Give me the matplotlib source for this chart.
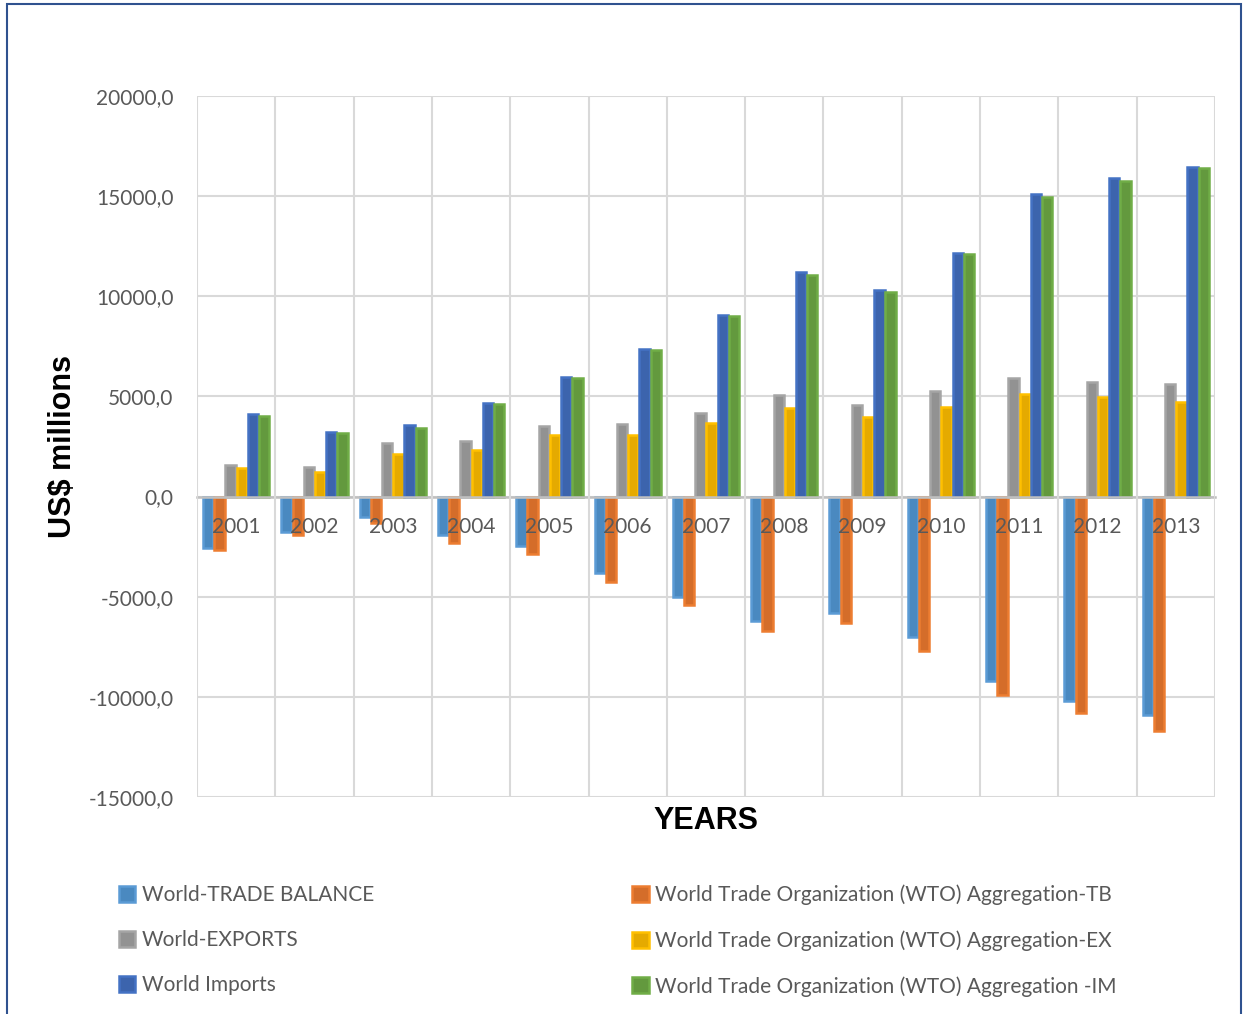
import matplotlib.pyplot as plt
import numpy as np
from matplotlib.patches import Rectangle

years = ["2001", "2002", "2003", "2004", "2005", "2006", "2007",
         "2008", "2009", "2010", "2011", "2012", "2013"]

world_tb = [-2550, -1750, -1000, -1900, -2450, -3800, -5000,
            -6200, -5800, -7000, -9200, -10230, -10900]
wto_tb = [-2650, -1900, -1300, -2300, -2850, -4250, -5400,
          -6700, -6300, -7700, -9900, -10820, -11720]
world_ex = [1600, 1500, 2650, 2750, 3500, 3600, 4150,
            5050, 4550, 5250, 5900, 5740, 5600]
wto_ex = [1450, 1250, 2150, 2350, 3050, 3050, 3650,
          4400, 3950, 4450, 5100, 4970, 4720]
world_im = [4100, 3200, 3550, 4650, 5950, 7350, 9050,
            11200, 10300, 12150, 15100, 15900, 16480]
wto_im = [4000, 3150, 3400, 4600, 5900, 7300, 9000,
          11050, 10200, 12100, 14970, 15750, 16390]

series = [
    ("World-TRADE BALANCE", world_tb, "#5b9bd5", "#4a89c0"),
    ("World Trade Organization (WTO) Aggregation-TB", wto_tb, "#ed7d31", "#d46d2a"),
    ("World-EXPORTS", world_ex, "#a5a5a5", "#929292"),
    ("World Trade Organization (WTO) Aggregation-EX", wto_ex, "#ffc000", "#e5aa00"),
    ("World Imports", world_im, "#4472c4", "#3c64ad"),
    ("World Trade Organization (WTO) Aggregation -IM", wto_im, "#70ad47", "#63993e"),
]

plt.rcParams["font.family"] = ["Lato", "DejaVu Sans"]
text_color = "#595959"

fig = plt.figure(figsize=(12.46, 10.14), dpi=100)
ax = fig.add_axes([197 / 1246, 1 - 797 / 1014, 1018 / 1246, 701 / 1014])

x = np.arange(len(years))
width = 0.143
handles = {}
for i, (name, vals, edge, face) in enumerate(series):
    offset = (i - 2.5) * width
    bars = ax.bar(x + offset, vals, width=width * 0.92, color=face,
                  edgecolor=edge, linewidth=1.8, zorder=3, label=name)
    handles[name] = bars

# category axis crosses at zero
for s in ["top", "right", "left"]:
    ax.spines[s].set_visible(False)
ax.spines["bottom"].set_position(("data", 0))
ax.spines["bottom"].set_color("#bfbfbf")
ax.spines["bottom"].set_linewidth(1.8)
ax.spines["bottom"].set_zorder(4)

ax.set_xlim(-0.5, len(years) - 0.5)
ax.set_ylim(-15000, 20000)
yt = np.arange(-15000, 20001, 5000)
ax.set_yticks(yt)
ax.set_yticklabels([f"{v:.1f}".replace(".", ",") for v in yt],
                   fontsize=15, color=text_color)
ax.set_xticks(x)
ax.set_xticklabels(years, fontsize=15, color=text_color)
ax.set_xticks(np.arange(-0.5, len(years)), minor=True)
ax.tick_params(axis="both", which="both", length=0)
ax.tick_params(axis="y", pad=17)
ax.tick_params(axis="x", pad=15)

ax.grid(axis="y", which="major", color="#d9d9d9", linewidth=1.5, zorder=0)
ax.grid(axis="x", which="minor", color="#d9d9d9", linewidth=1.5, zorder=0)
ax.grid(axis="x", which="major", visible=False)
ax.yaxis.set_zorder(0.5)
ax.xaxis.set_zorder(5)

fig.text(63 / 1246, 1 - 447 / 1014, "US$ millions", rotation=90,
         ha="center", va="center", fontsize=22, fontweight="bold",
         family="Liberation Sans", color="black")
fig.text(706 / 1246, 1 - 821 / 1014, "YEARS", ha="center", va="center",
         fontsize=22, fontweight="bold", family="Liberation Sans", color="black")

order = [series[0], series[2], series[4], series[1], series[3], series[5]]
leg = fig.legend([handles[s[0]] for s in order], [s[0] for s in order],
                 ncol=2, loc="upper left",
                 bbox_to_anchor=(100 / 1246, 1 - 866 / 1014),
                 frameon=False, fontsize=15, labelcolor=text_color,
                 handlelength=0.8, handleheight=0.8, handletextpad=0.3,
                 labelspacing=1.2, columnspacing=12.4)

# outer border around the chart area
fig.patches.append(Rectangle((7 / 1246, -0.01), 1234 / 1246, 1.01 - 4 / 1014,
                             transform=fig.transFigure, fill=False,
                             edgecolor="#2f528f", linewidth=1.5))

fig.savefig("out.png", dpi=100, facecolor="white")
